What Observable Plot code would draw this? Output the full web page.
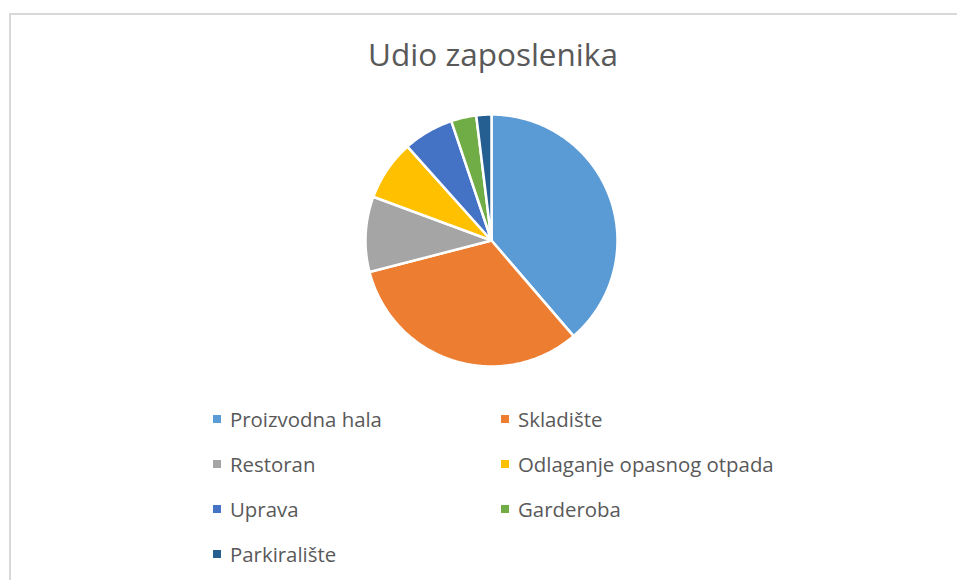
<!DOCTYPE html>
<html>
<head>
<meta charset="utf-8">
<script src="https://cdn.jsdelivr.net/npm/d3@7"></script>
<script src="https://cdn.jsdelivr.net/npm/@observablehq/plot@0.6"></script>
<style>
  html, body { margin: 0; padding: 0; background: #fff; }
  #wrap { position: relative; width: 957px; height: 580px; overflow: hidden; background: #fff; font-family: "Open Sans", Lato, sans-serif; color: #595959; }
  #frame { position: absolute; left: 9px; top: 13px; width: 960px; height: 580px; border-top: 2px solid #d9d9d9; border-left: 2px solid #d9d9d9; box-sizing: border-box; }
  #title { position: absolute; left: 0; width: 986px; top: 34px; text-align: center; font-size: 31.5px; line-height: 40px; }
  #chart { position: absolute; left: 0; top: 100px; }
  .item { position: absolute; font-size: 20.4px; line-height: 24px; white-space: nowrap; }
  .sw { position: absolute; width: 8px; height: 8px; top: 8px; left: -17px; }
</style>
</head>
<body>
<div id="wrap">
  <div id="frame"></div>
  <div id="title">Udio zaposlenika</div>
  <div id="chart"></div>
  <div id="legend"></div>
</div>
<script>
const titleText = "Udio zaposlenika";
const categories = ["Proizvodna hala", "Skladište", "Restoran", "Odlaganje opasnog otpada", "Uprava", "Garderoba", "Parkiralište"];
const values = [60, 50, 15, 12, 10, 5, 3];
const colors = ["#5B9BD5", "#ED7D31", "#A5A5A5", "#FFC000", "#4472C4", "#70AD47", "#255E91"];

const data = categories.map((name, i) => ({name, value: values[i]}));
const arcs = d3.pie().value(d => d.value).sort(null).startAngle(0).endAngle(2 * Math.PI)(data);

// polygon outline of each slice in unit coordinates
const pts = [];
for (const a of arcs) {
  const name = a.data.name;
  pts.push({name, x: 0, y: 0});
  const n = Math.max(2, Math.ceil((a.endAngle - a.startAngle) / (Math.PI / 180)));
  for (let k = 0; k <= n; k++) {
    const t = a.startAngle + (a.endAngle - a.startAngle) * k / n;
    pts.push({name, x: Math.sin(t), y: Math.cos(t)});
  }
}

const chart = Plot.plot({
  width: 957,
  height: 280,
  marginLeft: 365,
  marginRight: 340,
  marginTop: 14,
  marginBottom: 14,
  x: {domain: [-1, 1], axis: null},
  y: {domain: [-1, 1], axis: null},
  color: {domain: categories, range: colors},
  style: {background: "transparent"},
  marks: [
    Plot.line(pts, {x: "x", y: "y", z: "name", fill: "name", stroke: "white", strokeWidth: 2.5, strokeLinejoin: "round", curve: "linear-closed"})
  ]
});
document.getElementById("chart").appendChild(chart);

const legend = document.getElementById("legend");
categories.forEach((name, i) => {
  const col = i % 2, row = Math.floor(i / 2);
  const el = document.createElement("div");
  el.className = "item";
  el.style.left = (col === 0 ? 230 : 518) + "px";
  el.style.top = (407 + row * 45) + "px";
  el.textContent = name;
  const sw = document.createElement("span");
  sw.className = "sw";
  sw.style.background = colors[i];
  el.appendChild(sw);
  legend.appendChild(el);
});
</script>
</body>
</html>
